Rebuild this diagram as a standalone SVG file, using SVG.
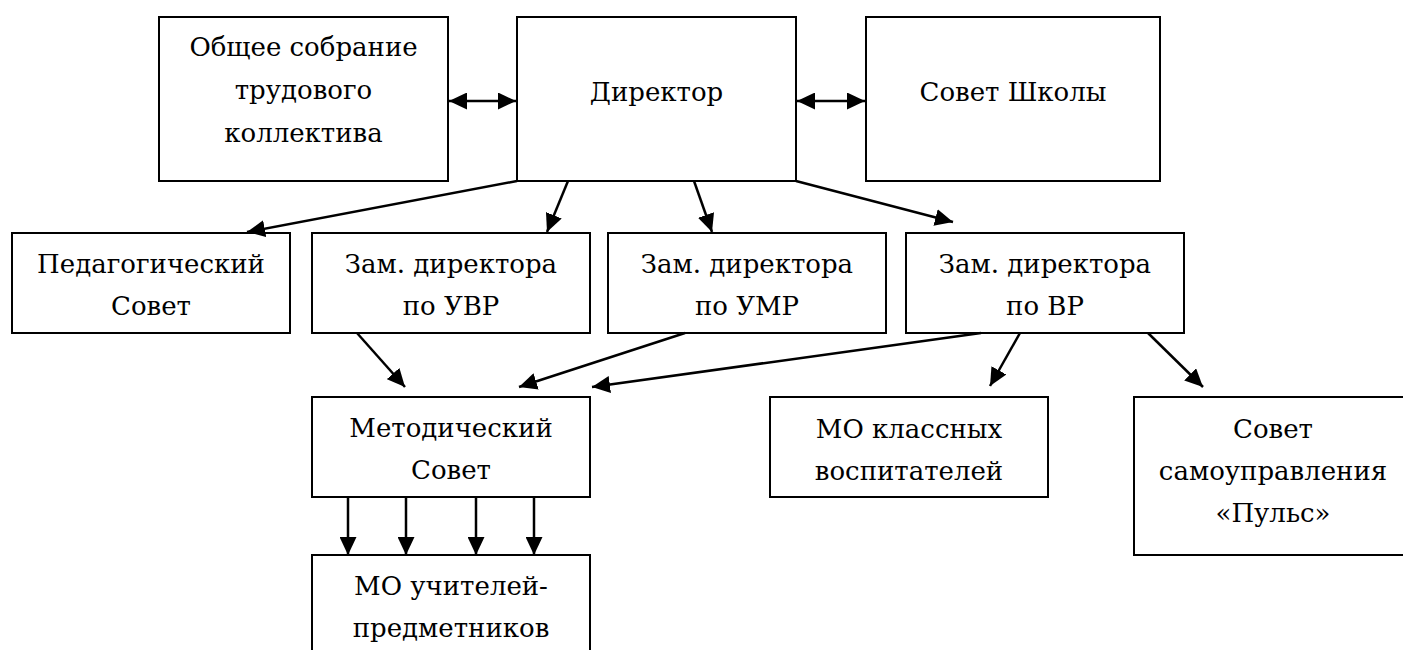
<svg xmlns="http://www.w3.org/2000/svg" width="1403" height="650" viewBox="0 0 1403 650">
<style>
.box{fill:#fff;stroke:#000;stroke-width:2}
.c{stroke:#000;stroke-width:2.5;fill:none}
.a{marker-end:url(#ah)}
.d{marker-start:url(#ah);marker-end:url(#ah)}
</style>
<defs>
<marker id="ah" markerUnits="userSpaceOnUse" markerWidth="19" markerHeight="17" refX="18" refY="8.5" orient="auto-start-reverse" viewBox="0 0 19 17">
<path d="M0,0 L18,8.5 L0,17 z" fill="#000"/>
</marker>
</defs>
<rect width="1403" height="650" fill="#fff"/>
<g font-family="DejaVu Serif, Liberation Serif, serif" font-size="26" text-anchor="middle" fill="#000">
<g id="obshee">
<rect class="box" x="159" y="17" width="289" height="164"/>
<text x="303.5" y="56">Общее собрание</text>
<text x="303.5" y="99">трудового</text>
<text x="303.5" y="142">коллектива</text>
</g>
<g id="direktor">
<rect class="box" x="517" y="17" width="279" height="164"/>
<text x="656.5" y="101">Директор</text>
</g>
<g id="sovet-shkoly">
<rect class="box" x="866" y="17" width="294" height="164"/>
<text x="1013" y="101">Совет Школы</text>
</g>
<g id="ped-sovet">
<rect class="box" x="12" y="233" width="278" height="100"/>
<text x="151" y="273">Педагогический</text>
<text x="151" y="315">Совет</text>
</g>
<g id="zam-uvr">
<rect class="box" x="312" y="233" width="278" height="100"/>
<text x="451" y="273">Зам. директора</text>
<text x="451" y="315">по УВР</text>
</g>
<g id="zam-umr">
<rect class="box" x="608" y="233" width="278" height="100"/>
<text x="747" y="273">Зам. директора</text>
<text x="747" y="315">по УМР</text>
</g>
<g id="zam-vr">
<rect class="box" x="906" y="233" width="278" height="100"/>
<text x="1045" y="273">Зам. директора</text>
<text x="1045" y="315">по ВР</text>
</g>
<g id="metod-sovet">
<rect class="box" x="312" y="397" width="278" height="100"/>
<text x="451" y="437">Методический</text>
<text x="451" y="479">Совет</text>
</g>
<g id="mo-uchiteley">
<rect class="box" x="312" y="555" width="278" height="110"/>
<text x="451" y="595">МО учителей-</text>
<text x="451" y="637">предметников</text>
</g>
<g id="mo-klassnyh">
<rect class="box" x="770" y="397" width="278" height="100"/>
<text x="909" y="438">МО классных</text>
<text x="909" y="480">воспитателей</text>
</g>
<g id="sovet-samoupr">
<rect class="box" x="1134" y="397" width="280" height="158"/>
<text x="1273" y="438">Совет</text>
<text x="1273" y="480">самоуправления</text>
<text x="1273" y="522">«Пульс»</text>
</g>
</g>
<g id="connectors">
<line class="c d" x1="449" y1="101" x2="516" y2="101"/>
<line class="c d" x1="797" y1="101" x2="865" y2="101"/>
<line class="c a" x1="517" y1="181" x2="247" y2="232"/>
<line class="c a" x1="568" y1="181" x2="547" y2="232"/>
<line class="c a" x1="694" y1="181" x2="712" y2="232"/>
<line class="c a" x1="796" y1="181" x2="953" y2="222"/>
<line class="c a" x1="357" y1="333" x2="405" y2="387"/>
<line class="c a" x1="685" y1="333" x2="519" y2="387"/>
<line class="c a" x1="981" y1="333" x2="592" y2="387"/>
<line class="c a" x1="1020" y1="333" x2="990" y2="386"/>
<line class="c a" x1="1148" y1="333" x2="1203" y2="387"/>
<line class="c a" x1="348" y1="497" x2="348" y2="555"/>
<line class="c a" x1="406" y1="497" x2="406" y2="555"/>
<line class="c a" x1="476" y1="497" x2="476" y2="555"/>
<line class="c a" x1="534" y1="497" x2="534" y2="555"/>
</g>
</svg>
